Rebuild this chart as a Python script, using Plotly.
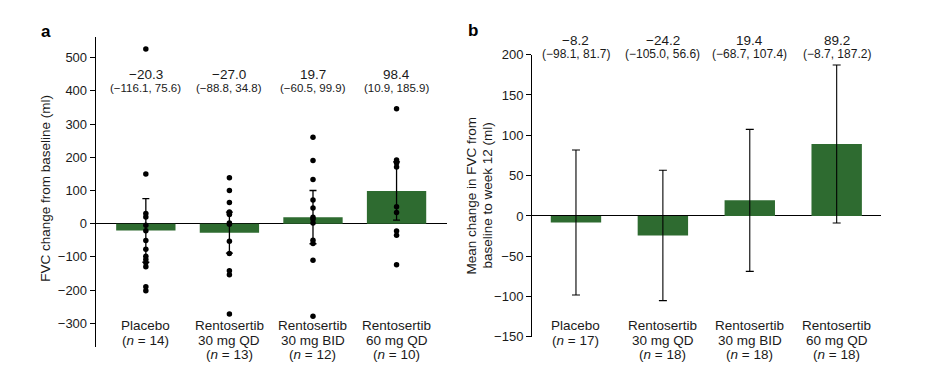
import plotly.graph_objects as go

# ---------------- data ----------------
cat_line1 = ["Placebo", "Rentosertib", "Rentosertib", "Rentosertib"]
cat_line2 = ["", "30 mg QD", "30 mg BID", "60 mg QD"]

# Panel a
n_a = [14, 13, 12, 10]
mean_a = [-20.3, -27.0, 19.7, 98.4]
ci_low_a = [-116.1, -88.8, -60.5, 10.9]
ci_high_a = [75.6, 34.8, 99.9, 185.9]
pts_placebo = [526, 150, 31, 20, -5, -21, -51, -77, -98, -108, -118, -130, -190, -202]
pts_30qd = [138, 100, 64, 35, 30, 28, 2, -2, -53, -90, -142, -154, -272]
pts_30bid = [260, 190, 133, 71, 47, 19, 13, 2, -50, -60, -110, -279]
pts_60qd = [346, 192, 186, 183, 171, 51, 34, -22, -35, -124]
points_a = [pts_placebo, pts_30qd, pts_30bid, pts_60qd]

# Panel b
n_b = [17, 18, 18, 18]
mean_b = [-8.2, -24.2, 19.4, 89.2]
ci_low_b = [-98.1, -105.0, -68.7, -8.7]
ci_high_b = [81.7, 56.6, 107.4, 187.2]

yticks_a = [-300, -200, -100, 0, 100, 200, 300, 400, 500]
yticks_b = [-150, -100, -50, 0, 50, 100, 150, 200]

# ---------------- style ----------------
W, H = 926, 376
OX, OY = 8, 8  # page offset of the figure in the browser (body margin)
GREEN = "#2e6b30"
FONT = "Liberation Sans, Arial, sans-serif"
TXT = "#1a1a1a"

def px(x):
    return (x - OX) / W

def py(y):
    return 1 - (y - OY) / H

def fmt(v, d=1):
    s = f"{abs(v):.{d}f}"
    return ("\u2212" + s) if v < 0 else s

xpos = [0, 1, 2, 3]

fig = go.Figure()

# Panel a bars
fig.add_trace(go.Bar(
    x=xpos, y=mean_a, width=0.71, marker=dict(color=GREEN, line=dict(width=0)),
    error_y=dict(type="data", symmetric=False,
                 array=[h - m for h, m in zip(ci_high_a, mean_a)],
                 arrayminus=[m - l for m, l in zip(mean_a, ci_low_a)],
                 color="black", thickness=1.3, width=3.5),
    xaxis="x", yaxis="y", showlegend=False, hoverinfo="skip"))

# Panel a points
for i, pts in enumerate(points_a):
    fig.add_trace(go.Scatter(
        x=[xpos[i]] * len(pts), y=pts, mode="markers",
        marker=dict(color="black", size=5.5),
        xaxis="x", yaxis="y", showlegend=False, hoverinfo="skip"))

# Panel b bars
fig.add_trace(go.Bar(
    x=xpos, y=mean_b, width=0.58, marker=dict(color=GREEN, line=dict(width=0)),
    error_y=dict(type="data", symmetric=False,
                 array=[h - m for h, m in zip(ci_high_b, mean_b)],
                 arrayminus=[m - l for m, l in zip(mean_b, ci_low_b)],
                 color="black", thickness=1.1, width=4),
    xaxis="x2", yaxis="y2", showlegend=False, hoverinfo="skip"))

# domains (pixel-derived from reference)
xa = [px(95.7), px(446.7)]
ya = [py(354), py(31)]
xb = [px(532), px(881)]
yb = [py(343.3), py(49.3)]

axis_common = dict(showgrid=False, ticks="outside", ticklen=5, tickwidth=1,
                   tickcolor="black", linecolor="black", linewidth=1, showline=True,
                   tickfont=dict(family=FONT, size=13, color=TXT),
                   zeroline=True, zerolinecolor="black", zerolinewidth=1.2)

fig.update_layout(
    width=W, height=H, margin=dict(l=0, r=0, t=0, b=0),
    paper_bgcolor="white", plot_bgcolor="white",
    font=dict(family=FONT, color=TXT),
    barmode="overlay",
    xaxis=dict(domain=xa, range=[-0.6, 3.6], showticklabels=False, showline=False,
               ticks="", showgrid=False, zeroline=False, anchor="y"),
    yaxis=dict(domain=ya, range=[-372, 562], tickvals=yticks_a, anchor="x",
               **axis_common),
    xaxis2=dict(domain=xb, range=[-0.506, 3.51], showticklabels=False, showline=False,
                ticks="", showgrid=False, zeroline=False, anchor="y2"),
    yaxis2=dict(domain=yb, range=[-150, 200], tickvals=yticks_b, anchor="x2",
                **axis_common),
)

ann = []

def add_text(text, xref, x, y, size, **kw):
    ann.append(dict(text=text, xref=xref, x=x, yref="paper", y=y, showarrow=False,
                    font=dict(family=FONT, size=size, color=TXT),
                    xanchor="center", yanchor="middle", **kw))

for i in range(4):
    # panel a
    add_text(fmt(mean_a[i]), "x", xpos[i], py(69.7), 13.5)
    add_text(f"({fmt(ci_low_a[i])}, {fmt(ci_high_a[i])})", "x", xpos[i], py(83.7), 11.5)
    # panel b
    add_text(fmt(mean_b[i]), "x2", xpos[i], py(35), 13.5)
    add_text(f"({fmt(ci_low_b[i])}, {fmt(ci_high_b[i])})", "x2", xpos[i], py(49), 12)
    for xr, nn in (("x", n_a[i]), ("x2", n_b[i])):
        lines = [cat_line1[i]]
        if cat_line2[i]:
            lines.append(cat_line2[i])
        lines.append(f"(<i>n</i> = {nn})")
        for k, t in enumerate(lines):
            add_text(t, xr, xpos[i], py(331.7 + 15 * k), 13.5)

# panel letters
ann.append(dict(text="<b>a</b>", xref="paper", yref="paper", x=px(46), y=py(25),
                showarrow=False, xanchor="center", yanchor="middle",
                font=dict(family=FONT, size=17, color="black")))
ann.append(dict(text="<b>b</b>", xref="paper", yref="paper", x=px(472.7), y=py(24),
                showarrow=False, xanchor="center", yanchor="middle",
                font=dict(family=FONT, size=17, color="black")))

# y titles
ann.append(dict(text="FVC change from baseline (ml)", xref="paper", yref="paper",
                x=px(46), y=py(189), textangle=-90, showarrow=False,
                xanchor="center", yanchor="middle",
                font=dict(family=FONT, size=13.5, color=TXT)))
ann.append(dict(text="Mean change in FVC from", xref="paper", yref="paper",
                x=px(471), y=py(196), textangle=-90, showarrow=False,
                xanchor="center", yanchor="middle",
                font=dict(family=FONT, size=13.5, color=TXT)))
ann.append(dict(text="baseline to week 12 (ml)", xref="paper", yref="paper",
                x=px(487), y=py(196), textangle=-90, showarrow=False,
                xanchor="center", yanchor="middle",
                font=dict(family=FONT, size=13.5, color=TXT)))

fig.update_layout(annotations=ann)
fig.write_html("out.html")
